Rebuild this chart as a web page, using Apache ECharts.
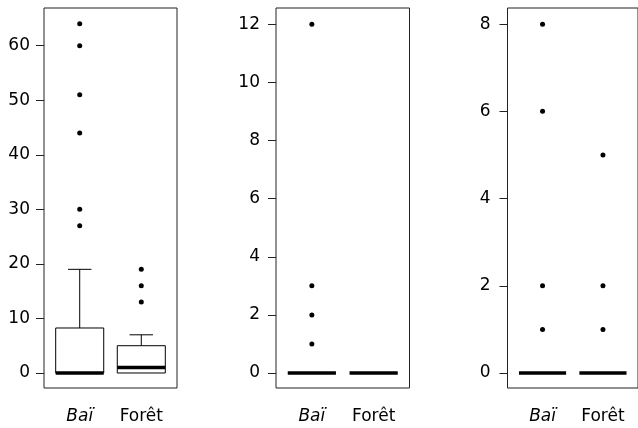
<!DOCTYPE html>
<html>
<head>
<meta charset="utf-8">
<script src="https://cdn.jsdelivr.net/npm/echarts@6/dist/echarts.min.js"></script>
<style>html,body{margin:0;padding:0;background:#fff}#c{width:638px;height:428px}</style>
</head>
<body>
<div id="c"></div>
<script>
// categories
const categories = ['Baï', 'Forêt'];
// box stats: [min, Q1, median, Q3, max]
const p1Bai = [0, 0, 0, 8.25, 19];
const p1Foret = [0, 0, 1, 5, 7];
const p1OutBai = [27, 30, 44, 51, 60, 64];
const p1OutForet = [13, 16, 19];
const p2Bai = [0, 0, 0, 0, 0];
const p2Foret = [0, 0, 0, 0, 0];
const p2OutBai = [1, 2, 3, 12];
const p2OutForet = [];
const p3Bai = [0, 0, 0, 0, 0];
const p3Foret = [0, 0, 0, 0, 0];
const p3OutBai = [1, 2, 6, 8];
const p3OutForet = [1, 2, 5];
// tick labels
const p1Ticks = [0, 10, 20, 30, 40, 50, 60];
const p2Ticks = [0, 2, 4, 6, 8, 10, 12];
const p3Ticks = [0, 2, 4, 6, 8];

const FONT = 'DejaVu Sans';
const FS = 17;
const panels = [
  {bai: p1Bai, foret: p1Foret, outBai: p1OutBai, outForet: p1OutForet, ticks: p1Ticks, min: -2.75, max: 66.9, left: 44, width: 133, margin: 14},
  {bai: p2Bai, foret: p2Foret, outBai: p2OutBai, outForet: p2OutForet, ticks: p2Ticks, min: -0.516, max: 12.56, left: 276, width: 133.5, margin: 16},
  {bai: p3Bai, foret: p3Foret, outBai: p3OutBai, outForet: p3OutForet, ticks: p3Ticks, min: -0.344, max: 8.37, left: 507.5, width: 135, margin: 17}
];

const BOX_HALF = 0.39, CAP_HALF = 0.19;

function renderBox(params, api) {
  const x = api.value(0);
  const mn = api.value(1), q1 = api.value(2), md = api.value(3), q3 = api.value(4), mx = api.value(5);
  const tl = api.coord([x - BOX_HALF, q3]);
  const br = api.coord([x + BOX_HALF, q1]);
  const c3 = api.coord([x, q3]), cMax = api.coord([x, mx]);
  const c1 = api.coord([x, q1]), cMin = api.coord([x, mn]);
  const capL = api.coord([x - CAP_HALF, mx]), capR = api.coord([x + CAP_HALF, mx]);
  const capL2 = api.coord([x - CAP_HALF, mn]), capR2 = api.coord([x + CAP_HALF, mn]);
  const mL = api.coord([x - BOX_HALF, md]), mR = api.coord([x + BOX_HALF, md]);
  const ls = {stroke: '#000', lineWidth: 1};
  const children = [];
  if (mx > q3) {
    children.push({type: 'line', shape: {x1: c3[0], y1: c3[1], x2: cMax[0], y2: cMax[1]}, style: ls});
    children.push({type: 'line', shape: {x1: capL[0], y1: capL[1], x2: capR[0], y2: capR[1]}, style: ls});
  }
  if (mn < q1) {
    children.push({type: 'line', shape: {x1: c1[0], y1: c1[1], x2: cMin[0], y2: cMin[1]}, style: ls});
    children.push({type: 'line', shape: {x1: capL2[0], y1: capL2[1], x2: capR2[0], y2: capR2[1]}, style: ls});
  }
  if (q3 > q1) {
    children.push({type: 'rect', shape: {x: tl[0], y: tl[1], width: br[0] - tl[0], height: br[1] - tl[1]}, style: {fill: '#fff', stroke: '#000', lineWidth: 1}});
  }
  children.push({type: 'line', shape: {x1: mL[0], y1: mL[1], x2: mR[0], y2: mR[1]}, style: {stroke: '#000', lineWidth: 3.5}});
  return {type: 'group', children: children};
}

const grid = [], xAxis = [], yAxis = [], series = [];
panels.forEach((p, i) => {
  grid.push({left: p.left, top: 8, width: p.width, height: 380, show: true, borderColor: '#222', borderWidth: 1, backgroundColor: 'transparent'});
  xAxis.push({
    type: 'value', gridIndex: i, min: 0.42, max: 2.58,
    splitLine: {show: false}, axisLine: {show: false}, axisTick: {show: false},
    axisLabel: {
      show: true, customValues: [1, 2], margin: 20, color: '#000',
      formatter: v => v === 1 ? '{i|' + categories[0] + '}' : '{n|' + categories[1] + '}',
      rich: {
        i: {fontFamily: FONT, fontSize: FS, fontStyle: 'italic', color: '#000'},
        n: {fontFamily: FONT, fontSize: FS, color: '#000'}
      }
    }
  });
  yAxis.push({
    type: 'value', gridIndex: i, min: p.min, max: p.max,
    splitLine: {show: false},
    axisLine: {show: false},
    axisTick: {show: true, inside: false, length: 8, customValues: p.ticks, lineStyle: {color: '#222', width: 1}},
    axisLabel: {show: true, customValues: p.ticks, margin: p.margin, fontFamily: FONT, fontSize: FS, color: '#000'}
  });
  series.push({
    type: 'custom', xAxisIndex: i, yAxisIndex: i,
    renderItem: renderBox,
    encode: {x: 0, y: [1, 2, 3, 4, 5]},
    data: [[1].concat(p.bai), [2].concat(p.foret)],
    silent: true
  });
  series.push({
    type: 'scatter', xAxisIndex: i, yAxisIndex: i, symbol: 'circle', symbolSize: 5,
    itemStyle: {color: '#000', opacity: 1}, silent: true,
    data: p.outBai.map(v => [1, v]).concat(p.outForet.map(v => [2, v]))
  });
});

const chart = echarts.init(document.getElementById('c'), null, {renderer: 'canvas'});
chart.setOption({animation: false, backgroundColor: '#fff', grid, xAxis, yAxis, series});
</script>
</body>
</html>
